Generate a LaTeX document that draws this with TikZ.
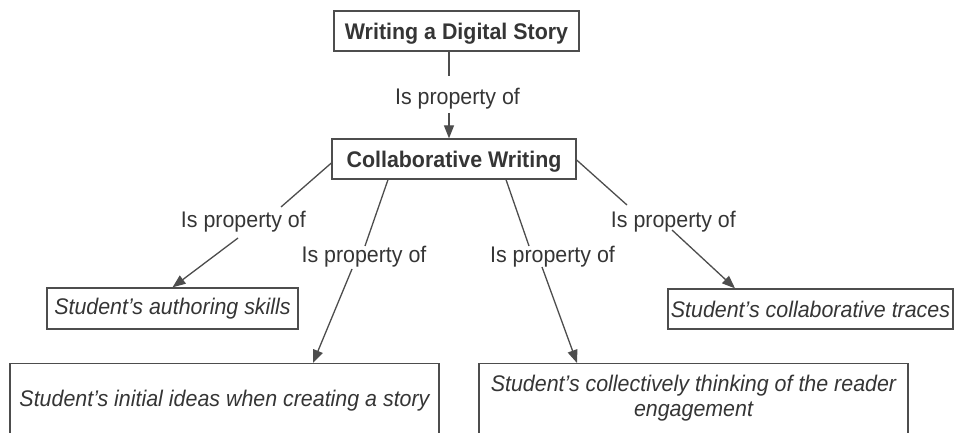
\documentclass[tikz,border=0pt]{standalone}
\usepackage{fontspec}
\setmainfont{Liberation Sans}[FakeStretch=0.947]
\usetikzlibrary{arrows.meta}
\definecolor{ink}{HTML}{353535}
\definecolor{edge}{HTML}{4D4D4D}

\begin{document}
\begin{tikzpicture}[x=1pt,y=-1pt,
  text=ink,
  box/.style={draw=edge, line width=1.3pt, rectangle, inner sep=0pt},
  title/.style={box, font=\fontsize{22.6}{24.5}\selectfont\bfseries,
    text height=16.2pt, text depth=0pt},
  item/.style={box, font=\fontsize{22.6}{24.5}\selectfont\itshape},
  rel/.style={inner sep=0pt, anchor=base, font=\fontsize{22.6}{24.5}\selectfont},
  link/.style={draw=edge, line width=1.3pt},
  arrow/.style={link, -{Triangle[length=13pt,width=10pt]}}
]
\clip (0,0) rectangle (955,433);
\fill[white] (0,0) rectangle (955,433);

% concept boxes
\node[title, minimum width=245pt, minimum height=40pt] (wds) at (456.5,31) {Writing a Digital Story};
\node[title, minimum width=244pt, minimum height=40pt] (cw) at (454,159) {Collaborative Writing};
\node[item, minimum width=251pt, minimum height=41pt] (sas) at (172.5,308.5) {Student’s authoring skills};
\node[item, minimum width=285pt, minimum height=40pt] (sct) at (810.5,309) {Student’s collaborative traces};
\node[item, anchor=north, minimum width=429pt, inner ysep=26pt] (sii) at (224.5,363)
  {Student’s initial ideas when creating a story};
\node[item, anchor=north, minimum width=429pt, inner ysep=11.5pt, align=center] (sce) at (693.5,363)
  {Student’s collectively thinking of the reader\\engagement\rule[-12pt]{0pt}{1pt}};

% relation labels
\node[rel] (r0) at (457.5,105) {Is property of};
\node[rel] (r1) at (243.4,227) {Is property of};
\node[rel] (r2) at (364,262) {Is property of};
\node[rel] (r3) at (552.5,262) {Is property of};
\node[rel] (r4) at (673.4,227) {Is property of};

% connectors, broken by their labels
\draw[link]  ([xshift=-7.5pt]wds.south) -- ([xshift=-8.5pt,yshift=29pt]r0.base);
\draw[arrow] ([xshift=-8.5pt,yshift=-8pt]r0.base) -- ([xshift=-5pt]cw.north);

\draw[link]  ([yshift=-4pt]cw.west) -- ([xshift=37.6pt,yshift=20pt]r1.base);
\draw[arrow] ([xshift=-5.4pt,yshift=-11pt]r1.base) -- (sas.north);

\draw[link]  ([xshift=-66pt]cw.south) -- ([xshift=1pt,yshift=16pt]r2.base);
\draw[arrow] ([xshift=-12pt,yshift=-7pt]r2.base) -- ([xshift=88.5pt]sii.north);

\draw[link]  ([xshift=52pt]cw.south) -- ([xshift=-23.5pt,yshift=16pt]r3.base);
\draw[arrow] ([xshift=-10.5pt,yshift=-5pt]r3.base) -- ([xshift=-116.5pt]sce.north);

\draw[link]  ([yshift=-1pt]cw.east) -- ([xshift=-46.4pt,yshift=22pt]r4.base);
\draw[arrow] ([xshift=-1.4pt,yshift=-3pt]r4.base) -- ([xshift=-75.5pt]sct.north);
\end{tikzpicture}
\end{document}
